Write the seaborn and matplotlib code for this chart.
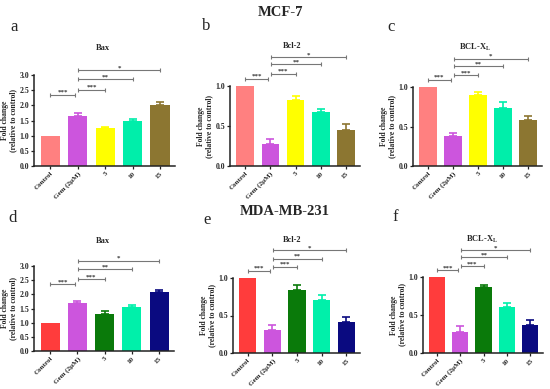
import matplotlib
matplotlib.use("Agg")
import matplotlib.pyplot as plt
import seaborn as sns
import numpy as np

sns.set_style("ticks")
plt.rcParams['font.family'] = ['Liberation Serif', 'DejaVu Serif']
plt.rcParams['mathtext.fontset'] = 'custom'
plt.rcParams['mathtext.rm'] = 'Liberation Serif:bold'
plt.rcParams['mathtext.it'] = 'Liberation Serif:bold'
plt.rcParams['mathtext.bf'] = 'Liberation Serif:bold'

# ---------------- data ----------------
categories = ["Control", "Gem (2μM)", "5", "10", "15"]

mcf_colors = ["#FF8080", "#CC55DD", "#FFFF00", "#00EEAA", "#8C7631"]
mda_colors = ["#FF3C3C", "#CC55DD", "#0A7A0A", "#00F0AA", "#0A0A80"]

bax_mcf = [1.00, 1.65, 1.25, 1.50, 2.00]
bax_mcf_err = [0.00, 0.10, 0.03, 0.05, 0.10]
bcl2_mcf = [1.00, 0.28, 0.82, 0.67, 0.445]
bcl2_mcf_err = [0.00, 0.06, 0.06, 0.04, 0.085]
bclxl_mcf = [1.00, 0.38, 0.90, 0.74, 0.58]
bclxl_mcf_err = [0.00, 0.04, 0.04, 0.07, 0.05]

bax_mda = [1.00, 1.68, 1.32, 1.55, 2.10]
bax_mda_err = [0.00, 0.10, 0.08, 0.07, 0.07]
bcl2_mda = [1.00, 0.31, 0.84, 0.71, 0.41]
bcl2_mda_err = [0.00, 0.06, 0.07, 0.06, 0.07]
bclxl_mda = [1.00, 0.28, 0.87, 0.61, 0.37]
bclxl_mda_err = [0.00, 0.07, 0.03, 0.05, 0.07]

# significance brackets: (start index, end index, label)
sig_pairs = [(0, 1, "***"), (1, 2, "***"), (1, 3, "**"), (1, 4, "*")]
bax_mcf_sig_y = [2.35, 2.52, 2.86, 3.16]
bcl2_mcf_sig_y = [1.09, 1.15, 1.27, 1.36]
bclxl_mcf_sig_y = [1.09, 1.15, 1.26, 1.36]
bax_mda_sig_y = [2.36, 2.53, 2.88, 3.18]
bcl2_mda_sig_y = [1.10, 1.15, 1.26, 1.37]
bclxl_mda_sig_y = [1.09, 1.14, 1.26, 1.35]

fig = plt.figure(figsize=(5.5, 3.89), dpi=100)
W, H = 550.0, 389.0

def axes_px(left, right, top, bottom):
    return fig.add_axes([left / W, 1 - bottom / H, (right - left) / W, (bottom - top) / H])

panels = [
    dict(box=(34, 175, 75, 166), vals=bax_mcf, errs=bax_mcf_err, cols=mcf_colors,
         ymax=3.0, step=0.5, title="Bax", sig=bax_mcf_sig_y, letter="a", lpos=(10, 27), tpos=(103, 48)),
    dict(box=(230, 360, 86, 166), vals=bcl2_mcf, errs=bcl2_mcf_err, cols=mcf_colors,
         ymax=1.0, step=0.5, title="Bcl-2", sig=bcl2_mcf_sig_y, letter="b", lpos=(202, 26), tpos=(292, 46)),
    dict(box=(413, 542, 87, 166), vals=bclxl_mcf, errs=bclxl_mcf_err, cols=mcf_colors,
         ymax=1.0, step=0.5, title="BCL-X$_{L}$", sig=bclxl_mcf_sig_y, letter="c", lpos=(387, 27), tpos=(475, 47)),
    dict(box=(34, 174, 266, 351), vals=bax_mda, errs=bax_mda_err, cols=mda_colors,
         ymax=3.0, step=0.5, title="Bax", sig=bax_mda_sig_y, letter="d", lpos=(8, 218), tpos=(103, 241)),
    dict(box=(233, 360, 278, 353), vals=bcl2_mda, errs=bcl2_mda_err, cols=mda_colors,
         ymax=1.0, step=0.5, title="Bcl-2", sig=bcl2_mda_sig_y, letter="e", lpos=(203, 220), tpos=(292, 240)),
    dict(box=(423, 543, 277, 353), vals=bclxl_mda, errs=bclxl_mda_err, cols=mda_colors,
         ymax=1.0, step=0.5, title="BCL-X$_{L}$", sig=bclxl_mda_sig_y, letter="f", lpos=(392, 217), tpos=(482, 239)),
]

xtick_fs = 5.1
ytick_fs = 5.6
for p in panels:
    ax = axes_px(*p["box"])
    sns.barplot(x=categories, y=p["vals"], hue=categories, palette=p["cols"], legend=False,
                ax=ax, width=0.7, errorbar=None, saturation=1, linewidth=0)
    xs = np.arange(len(categories))
    for i in range(len(categories)):
        if p["errs"][i] > 0:
            ax.errorbar(xs[i], p["vals"][i], yerr=[[0], [p["errs"][i]]], fmt='none',
                        ecolor=p["cols"][i], elinewidth=1.2, capsize=3.0, capthick=1.2)
    ax.set_xlim(-0.6, 4.55)
    ax.set_ylim(0, p["ymax"])
    ticks = np.arange(0, p["ymax"] + 1e-6, p["step"])
    ax.set_yticks(ticks)
    ax.set_yticklabels([f"{v:.1f}" for v in ticks], fontsize=ytick_fs, fontweight='bold')
    ax.set_xticks(xs)
    ax.set_xticklabels(categories, rotation=45, ha='right', rotation_mode='anchor',
                       fontsize=xtick_fs, fontweight='bold')
    ax.tick_params(axis='both', length=2, width=0.9, pad=1.5, color='#222222')
    for s in ['top', 'right']:
        ax.spines[s].set_visible(False)
    for s in ['left', 'bottom']:
        ax.spines[s].set_linewidth(1.1)
        ax.spines[s].set_color('#222222')
    ax.set_ylabel("Fold change\n(relative to control)", fontsize=5.5, fontweight='bold', labelpad=1.5,
                  linespacing=1.1)
    # significance brackets
    for (i0, i1, lab), yv in zip(sig_pairs, p["sig"]):
        x0 = i0 + (0.0 if i0 == 0 else 0.02)
        x1 = i1 - (0.1 if i0 == 0 else 0.0)
        ax.plot([x0, x1], [yv, yv], color='#777777', lw=0.8, clip_on=False,
                marker='|', markersize=3, markeredgewidth=0.8)
        ax.text((x0 + x1) / 2, yv, lab, ha='center', va='bottom', fontsize=5,
                fontweight='bold', color='#333333', clip_on=False)
    fig.text(p["tpos"][0] / W, 1 - p["tpos"][1] / H, p["title"], ha='center', va='center',
             fontsize=6, fontweight='bold')
    fig.text(p["lpos"][0] / W, 1 - p["lpos"][1] / H, p["letter"], ha='left', va='center',
             fontsize=12)

fig.text(280 / W, 1 - 12 / H, "MCF-7", ha='center', va='center', fontsize=10.5, fontweight='bold')
fig.text(285 / W, 1 - 212 / H, "MDA-MB-231", ha='center', va='center', fontsize=10.5, fontweight='bold')

fig.savefig("out.png", dpi=100)
